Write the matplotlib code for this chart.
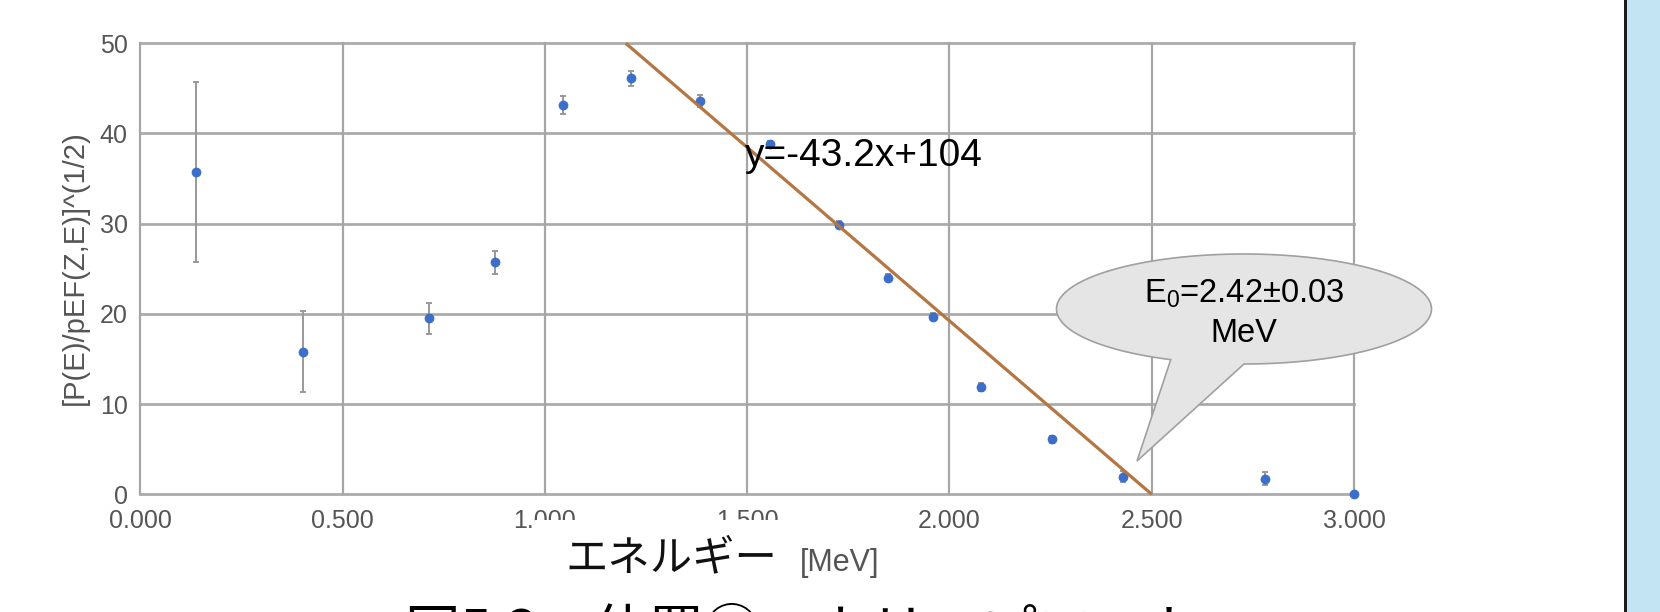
import matplotlib
matplotlib.use("Agg")
import matplotlib.pyplot as plt
import numpy as np
from matplotlib.patches import Rectangle, Polygon

plt.rcParams['font.family'] = ['Liberation Sans', 'DejaVu Sans']
plt.rcParams['mathtext.fontset'] = 'custom'
plt.rcParams['mathtext.rm'] = 'Liberation Sans'
plt.rcParams['mathtext.it'] = 'Liberation Sans:italic'

# ---- data ----
energy = [0.137, 0.402, 0.714, 0.877, 1.044, 1.213, 1.384, 1.557,
          1.728, 1.848, 1.960, 2.079, 2.254, 2.428, 2.780, 3.000]
kurie = [35.7, 15.8, 19.5, 25.7, 43.2, 46.1, 43.6, 38.8,
         29.9, 24.0, 19.7, 11.9, 6.1, 1.95, 1.73, 0.0]
kurie_err = [10.0, 4.5, 1.7, 1.3, 1.0, 0.8, 0.7, 0.4,
             0.4, 0.4, 0.4, 0.4, 0.4, 0.6, 0.7, 0.0]
fit_x = [1.20, 2.50]
fit_y = [50.0, 0.0]
xticks = [0.0, 0.5, 1.0, 1.5, 2.0, 2.5, 3.0]
xtick_labels = ["0.000", "0.500", "1.000", "1.500", "2.000", "2.500", "3.000"]
yticks = [0, 10, 20, 30, 40, 50]
fit_label = "y=-43.2x+104"
callout_line1 = r"E$_\mathrm{0}$=2.42±0.03"
callout_line2 = "MeV"
ylabel = "[P(E)/pEF(Z,E)]^(1/2)"
xlabel_jp = "エネルギー"
xlabel_unit = "[MeV]"
caption = "図5.3　位置②　カリープロット"

W, H = 1660, 612
fig = plt.figure(figsize=(W / 100, H / 100), dpi=100)
fig.patch.set_facecolor('white')

def fx(x):
    return x / W

def fy(y):
    return 1 - y / H

ax_l, ax_r, ax_t, ax_b = 140.3, 1354.0, 43.3, 494.3
ax = fig.add_axes([fx(ax_l), fy(ax_b), (ax_r - ax_l) / W, (ax_b - ax_t) / H])
ax.set_xlim(0, 3.0)
ax.set_ylim(0, 50)

for v in yticks:
    ax.axhline(v, color='#ABABAB', lw=2.0, zorder=1, clip_on=False)
for v in xticks:
    ax.axvline(v, color='#A6A6A6', lw=1.6, zorder=1, clip_on=False)
for s in ax.spines.values():
    s.set_visible(False)

ax.set_xticks(xticks)
ax.set_xticklabels(xtick_labels)
ax.set_yticks(yticks)
ax.tick_params(axis='both', length=0, labelsize=18, labelcolor='#555555')
ax.tick_params(axis='x', pad=10.5)
ax.tick_params(axis='y', pad=9)

ax.errorbar(energy, kurie, yerr=kurie_err, fmt='none', ecolor='#999999',
            elinewidth=1.4, capsize=2.2, capthick=1.4, zorder=3, clip_on=False)
ax.plot(energy, kurie, 'o', color='#3B6FCB', ms=6.5, mec='#3566C0', mew=0.5,
        zorder=4, clip_on=False)
ax.plot(fit_x, fit_y, color='#B47642', lw=2.3, zorder=5, solid_capstyle='butt',
        clip_on=False)

ax.text(1.494, 36.4, fit_label, fontsize=28, color='black', ha='left',
        va='baseline', zorder=6)

fig.text(fx(75), fy(268), ylabel, rotation=90, ha='center', va='center',
         fontsize=21, color='#555555')

# white box of the x-label overlapping the tick labels
fig.patches.append(Rectangle((fx(535), fy(582)), (795 - 535) / W, (582 - 520) / H,
                             transform=fig.transFigure, facecolor='white',
                             edgecolor='none', zorder=2))
fig.text(fx(565), fy(570), xlabel_jp, family=['Noto Sans CJK JP', 'DejaVu Sans'],
         fontsize=30.5, color='#111111', ha='left', va='baseline', zorder=3)
fig.text(fx(800), fy(571), xlabel_unit, fontsize=22, color='#555555',
         ha='left', va='baseline', zorder=3)

# caption (cut off by the bottom edge)
fig.text(fx(405), fy(650), caption, family=['Noto Sans CJK JP', 'DejaVu Sans'],
         fontsize=40, color='black', ha='left', va='baseline', zorder=3)

# speech-bubble callout
cx, cy, a, b = 1244.0, 309.0, 187.5, 55.0
t = np.radians(np.linspace(113, 450, 300))
px = cx + a * np.cos(t)
py = cy + b * np.sin(t)
pts = [(fx(x), fy(y)) for x, y in zip(px, py)]
pts.append((fx(1137), fy(461)))
fig.patches.append(Polygon(pts, closed=True, transform=fig.transFigure,
                           facecolor='#E5E5E5', edgecolor='#A0A0A0', lw=1.2,
                           zorder=2))
fig.text(fx(1244), fy(303), callout_line1, fontsize=23.5, color='black',
         ha='center', va='baseline', zorder=3)
fig.text(fx(1244), fy(342), callout_line2, fontsize=23.5, color='black',
         ha='center', va='baseline', zorder=3)

# right-hand slide panel
fig.patches.append(Rectangle((fx(1627), 0), (W - 1627) / W, 1,
                             transform=fig.transFigure, facecolor='#C2E4F3',
                             edgecolor='none', zorder=2))
fig.patches.append(Rectangle((fx(1624), 0), 3.0 / W, 1,
                             transform=fig.transFigure, facecolor='#1A1A1A',
                             edgecolor='none', zorder=2))

fig.savefig('out.png', dpi=100)
